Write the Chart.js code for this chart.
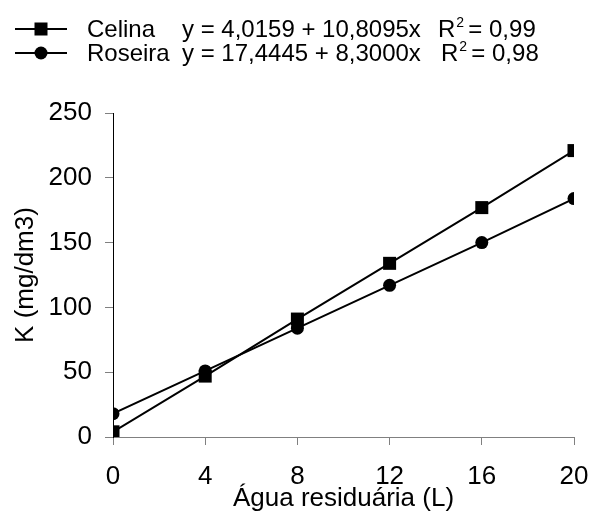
<!DOCTYPE html>
<html>
<head>
<meta charset="utf-8">
<script src="https://cdn.jsdelivr.net/npm/chart.js@4/dist/chart.umd.min.js"></script>
<style>
html,body{margin:0;padding:0;background:#fff;}
#wrap{position:relative;width:590px;height:514px;}
</style>
</head>
<body>
<div id="wrap"><canvas id="c" width="590" height="514"></canvas></div>
<script>
const xValues = [0, 4, 8, 12, 16, 20];
const celina = [4, 47, 91, 134, 177, 221];
const roseira = [18, 51, 84, 117, 150, 184];
const seriesNames = ['Celina', 'Roseira'];
const equations = ['y = 4,0159 + 10,8095x', 'y = 17,4445 + 8,3000x'];
const r2Values = ['= 0,99', '= 0,98'];
const xTitle = 'Água residuária (L)';
const yTitle = 'K (mg/dm3)';

const FONT = "'Liberation Sans', Arial, sans-serif";

const legendPlugin = {
  id: 'eqLegend',
  afterDraw(chart) {
    const ctx = chart.ctx;
    ctx.save();
    const rows = [29, 53];
    const styles = ['rect', 'circle'];
    rows.forEach((y, i) => {
      ctx.strokeStyle = '#000';
      ctx.lineWidth = 2;
      ctx.beginPath();
      ctx.moveTo(15, y);
      ctx.lineTo(67, y);
      ctx.stroke();
      ctx.fillStyle = '#000';
      if (styles[i] === 'rect') {
        ctx.fillRect(41 - 6.5, y - 6.5, 13, 13);
      } else {
        ctx.beginPath();
        ctx.arc(41, y, 6.5, 0, Math.PI * 2);
        ctx.fill();
      }
      ctx.textBaseline = 'middle';
      ctx.textAlign = 'left';
      ctx.font = '24px ' + FONT;
      ctx.fillText(seriesNames[i], 87, y + 1);
      ctx.fillText(equations[i], 182, y + 1);
      const rx = i === 0 ? 438 : 441;
      ctx.fillText('R', rx, y + 1);
      const rw = ctx.measureText('R').width;
      ctx.font = '14px ' + FONT;
      ctx.fillText('2', rx + rw + 1, y - 6);
      ctx.font = '24px ' + FONT;
      ctx.fillText(r2Values[i], rx + rw + 13, y + 1);
    });
    ctx.restore();
  }
};

new Chart(document.getElementById('c'), {
  type: 'line',
  data: {
    datasets: [
      {
        label: seriesNames[0],
        data: xValues.map((x, i) => ({x: x, y: celina[i]})),
        borderColor: '#000', backgroundColor: '#000',
        borderWidth: 2, pointStyle: 'rect', pointRadius: 9.2,
        pointBorderWidth: 0, tension: 0
      },
      {
        label: seriesNames[1],
        data: xValues.map((x, i) => ({x: x, y: roseira[i]})),
        borderColor: '#000', backgroundColor: '#000',
        borderWidth: 2, pointStyle: 'circle', pointRadius: 6.5,
        pointBorderWidth: 0, tension: 0
      }
    ]
  },
  options: {
    responsive: false,
    animation: false,
    layout: {padding: {top: 113, right: 16, left: 0, bottom: 0}},
    plugins: {legend: {display: false}, tooltip: {enabled: false}},
    scales: {
      x: {
        type: 'linear', min: 0, max: 20,
        ticks: {stepSize: 4, color: '#000', font: {family: FONT, size: 26}, padding: 16, maxRotation: 0},
        grid: {drawOnChartArea: false, tickLength: 8, color: '#808080', lineWidth: 1},
        border: {color: '#808080', width: 1},
        title: {display: true, text: xTitle, color: '#000', font: {family: FONT, size: 26}, padding: {top: 0, bottom: 0}},
        afterFit(scale) { scale.height = 77; scale.paddingLeft = 0; scale.paddingRight = 0; }
      },
      y: {
        min: 0, max: 250,
        ticks: {stepSize: 50, color: '#000', font: {family: FONT, size: 26}, padding: 13},
        grid: {drawOnChartArea: false, tickLength: 8, color: '#808080', lineWidth: 1},
        border: {color: '#000', width: 1},
        title: {display: true, text: yTitle, color: '#000', font: {family: FONT, size: 26}, padding: {top: 10, bottom: 0}},
        afterFit(scale) { scale.width = 113; }
      }
    }
  },
  plugins: [legendPlugin]
});
</script>
</body>
</html>
